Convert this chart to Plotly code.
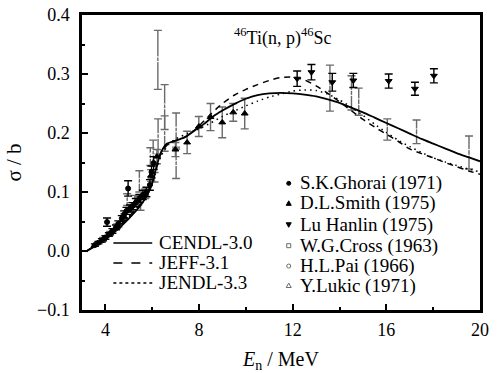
import plotly.graph_objects as go

# ---------------- evaluated data curves ----------------
cendl_x = [3.2, 3.5, 4.0, 4.5, 5.0, 5.5, 5.85, 6.0, 6.15, 6.35, 6.6, 7.0, 7.4, 7.8, 8.2, 8.6, 9.0, 9.5,
           10.0, 10.5, 11.0, 11.5, 12.0, 12.5, 13.0, 13.5, 14.0, 14.5, 15.0, 15.5, 16.0, 16.5, 17.0,
           17.5, 18.0, 18.5, 19.0, 19.5, 20.0]
cendl_y = [0.0, 0.007, 0.02, 0.036, 0.055, 0.077, 0.100, 0.115, 0.138, 0.165, 0.181, 0.187, 0.193, 0.204,
           0.215, 0.228, 0.238, 0.249, 0.258, 0.264, 0.267, 0.268, 0.267, 0.265, 0.262, 0.257, 0.251,
           0.243, 0.235, 0.226, 0.217, 0.208, 0.199, 0.19, 0.182, 0.174, 0.166, 0.159, 0.152]

jeff_x = [3.2, 3.5, 4.0, 4.5, 5.0, 5.5, 5.8, 6.0, 6.2, 6.4, 6.7, 7.0, 7.5, 8.0, 8.5, 9.0, 9.5, 10.0,
          10.5, 11.0, 11.5, 12.0, 12.5, 13.0, 13.5, 14.0, 14.5, 15.0, 15.5, 16.0, 16.5, 17.0, 17.5,
          18.0, 18.5, 19.0, 19.5, 20.0]
jeff_y = [0.0, 0.008, 0.022, 0.039, 0.058, 0.08, 0.1, 0.118, 0.143, 0.168, 0.182, 0.187, 0.195, 0.212,
          0.232, 0.25, 0.264, 0.274, 0.282, 0.289, 0.294, 0.295, 0.29, 0.28, 0.267, 0.253, 0.238,
          0.223, 0.21, 0.198, 0.186, 0.173, 0.165, 0.158, 0.15, 0.143, 0.136, 0.13]

jendl_x = [3.2, 3.5, 4.0, 4.5, 5.0, 5.5, 5.8, 6.0, 6.2, 6.4, 6.7, 7.0, 7.5, 8.0, 8.5, 9.0, 9.5, 10.0,
           10.5, 11.0, 11.5, 12.0, 12.5, 13.0, 13.5, 14.0, 14.5, 15.0, 15.5, 16.0, 16.5, 17.0, 17.5,
           18.0, 18.5, 19.0, 19.5, 20.0]
jendl_y = [0.0, 0.008, 0.021, 0.038, 0.057, 0.079, 0.098, 0.113, 0.14, 0.163, 0.18, 0.19, 0.199, 0.207,
           0.217, 0.228, 0.237, 0.246, 0.254, 0.261, 0.266, 0.271, 0.273, 0.272, 0.266, 0.256, 0.244,
           0.23, 0.215, 0.201, 0.188, 0.177, 0.167, 0.158, 0.151, 0.145, 0.139, 0.134]

# ---------------- experimental data ----------------
ghorai_x = [3.55, 3.7, 3.85, 4.0, 4.07, 4.15, 4.3, 4.45, 4.55, 4.7, 4.8, 4.9, 4.97, 5.05, 5.15, 5.3,
            5.45, 5.6, 5.75, 5.9, 5.97, 6.06]
ghorai_y = [0.01, 0.014, 0.018, 0.023, 0.049, 0.028, 0.034, 0.04, 0.046, 0.055, 0.062, 0.068, 0.106,
            0.072, 0.076, 0.082, 0.089, 0.095, 0.1, 0.112, 0.134, 0.149]
ghorai_e = [0.002, 0.002, 0.003, 0.003, 0.007, 0.003, 0.004, 0.004, 0.005, 0.005, 0.006, 0.006, 0.013,
            0.006, 0.006, 0.007, 0.007, 0.008, 0.008, 0.009, 0.01, 0.011]

smith_x = [3.9, 4.2, 4.5, 4.8, 5.1, 5.4, 5.7, 5.95, 6.2, 6.99, 7.49, 7.99, 8.49, 8.99, 9.46, 9.95]
smith_y = [0.02, 0.03, 0.042, 0.058, 0.072, 0.085, 0.097, 0.128, 0.16, 0.172, 0.184, 0.211, 0.227,
           0.218, 0.235, 0.233]
smith_e = [0.003, 0.003, 0.004, 0.005, 0.006, 0.007, 0.008, 0.01, 0.012, 0.012, 0.019, 0.017, 0.023,
           0.026, 0.015, 0.026]

lu_x = [12.19, 12.8, 13.69, 14.59, 16.1, 17.22, 18.03]
lu_y = [0.292, 0.303, 0.286, 0.289, 0.288, 0.275, 0.297]
lu_e = [0.013, 0.013, 0.015, 0.012, 0.012, 0.011, 0.012]

cross_x = [5.25, 6.1, 14.51]
cross_y = [0.088, 0.125, 0.268]
cross_e = [0.006, 0.008, 0.029]

pai_x = [13.59, 14.82, 16.04, 17.29, 19.53]
pai_y = [0.276, 0.253, 0.206, 0.202, 0.167]
pai_e = [0.039, 0.023, 0.018, 0.02, 0.028]

lukic_x = [4.93, 5.45, 5.5, 5.92, 6.04, 6.24, 6.25, 6.53, 6.53, 7.02, 7.02]
lukic_y = [0.087, 0.118, 0.081, 0.16, 0.166, 0.324, 0.194, 0.244, 0.199, 0.205, 0.148]
lukic_e = [0.01, 0.018, 0.012, 0.015, 0.022, 0.05, 0.03, 0.038, 0.03, 0.029, 0.025]

line_names = ["CENDL-3.0", "JEFF-3.1", "JENDL-3.3"]
exp_names = ["S.K.Ghorai (1971)", "D.L.Smith (1975)", "Lu Hanlin (1975)",
             "W.G.Cross (1963)", "H.L.Pai (1966)", "Y.Lukic (1971)"]
x_ticks = [4, 8, 12, 16, 20]
y_ticks = [-0.1, 0.0, 0.1, 0.2, 0.3, 0.4]

FONT = "Liberation Serif, Times New Roman, Times, serif"
GREY = "#6a6a6a"

fig = go.Figure()

def exp_trace(x, y, e, name, symbol, mcolor, mline, ecolor, size):
    fig.add_trace(go.Scatter(
        x=x, y=y, mode="markers", name=name, showlegend=False,
        marker=dict(symbol=symbol, size=size, color=mcolor, line=dict(color=mline, width=1)),
        error_y=dict(type="data", array=e, visible=True, color=ecolor, thickness=1.4, width=4),
    ))

exp_trace(lukic_x, lukic_y, lukic_e, exp_names[5], "triangle-up-open", "white", GREY, GREY, 7)
exp_trace(pai_x, pai_y, pai_e, exp_names[4], "circle-open", "white", GREY, GREY, 6)
exp_trace(cross_x, cross_y, cross_e, exp_names[3], "square-open", "white", GREY, GREY, 5)
exp_trace(smith_x, smith_y, smith_e, exp_names[1], "triangle-up", "black", "black", GREY, 6)
exp_trace(ghorai_x, ghorai_y, ghorai_e, exp_names[0], "circle", "black", "black", "black", 5)
exp_trace(lu_x, lu_y, lu_e, exp_names[2], "triangle-down", "black", "black", "black", 6)

fig.add_trace(go.Scatter(x=cendl_x, y=cendl_y, mode="lines", name=line_names[0], showlegend=False,
                         line=dict(color="black", width=1.8, shape="spline", smoothing=0.6)))
fig.add_trace(go.Scatter(x=jeff_x, y=jeff_y, mode="lines", name=line_names[1], showlegend=False,
                         line=dict(color="black", width=1.5, dash="6px,5px", shape="spline", smoothing=0.6)))
fig.add_trace(go.Scatter(x=jendl_x, y=jendl_y, mode="lines", name=line_names[2], showlegend=False,
                         line=dict(color="black", width=1.5, dash="1.5px,4px", shape="spline", smoothing=0.6)))

# ---------------- manual legends ----------------
shapes = []
annotations = []
line_rows = [0.0136, -0.0203, -0.0542]
dashes = ["solid", "dash", "dot"]
for name, yy, d in zip(line_names, line_rows, dashes):
    shapes.append(dict(type="line", xref="x", yref="y", x0=4.34, x1=6.0, y0=yy, y1=yy,
                       line=dict(color="black", width=1.5, dash=d)))
    annotations.append(dict(x=6.2, y=yy, xref="x", yref="y", text=name, showarrow=False,
                            xanchor="left", yanchor="middle",
                            font=dict(family=FONT, size=19, color="black")))

# legend keys for experiments (small symbols), sized in pixels -> data units
PX = 1 / 23.4      # one pixel in x data units
PY = 1 / 590.0     # one pixel in y data units
exp_rows = [0.1147, 0.0808, 0.0445, 0.0090, -0.0255, -0.0585]
key_x = 11.83
kinds = ["circle", "up", "down", "square", "circle", "up"]
fills = ["black", "black", "black", "white", "white", "white"]
edges = ["black", "black", "black", GREY, GREY, GREY]
r = 2.0
for name, yy, kind, fc, ec in zip(exp_names, exp_rows, kinds, fills, edges):
    if kind == "circle":
        shapes.append(dict(type="circle", xref="x", yref="y",
                           x0=key_x - r * PX, x1=key_x + r * PX, y0=yy - r * PY, y1=yy + r * PY,
                           fillcolor=fc, line=dict(color=ec, width=1)))
    elif kind == "square":
        shapes.append(dict(type="rect", xref="x", yref="y",
                           x0=key_x - r * PX, x1=key_x + r * PX, y0=yy - r * PY, y1=yy + r * PY,
                           fillcolor=fc, line=dict(color=ec, width=1)))
    else:
        s = 1 if kind == "up" else -1
        path = (f"M {key_x - 2.5 * PX},{yy - s * 2 * PY} L {key_x + 2.5 * PX},{yy - s * 2 * PY} "
                f"L {key_x},{yy + s * 2.5 * PY} Z")
        shapes.append(dict(type="path", xref="x", yref="y", path=path,
                           fillcolor=fc, line=dict(color=ec, width=1)))
    annotations.append(dict(x=12.24, y=yy, xref="x", yref="y", text=name, showarrow=False,
                            xanchor="left", yanchor="middle",
                            font=dict(family=FONT, size=19, color="black")))

annotations.append(dict(x=11.6, y=0.362, xref="x", yref="y",
                        text="<sup>46</sup>Ti(n, p)<sup>46</sup>Sc", showarrow=False,
                        xanchor="center", yanchor="middle",
                        font=dict(family=FONT, size=18, color="black")))

axis_common = dict(
    showgrid=False, zeroline=False, showline=True, linecolor="black", linewidth=2.5,
    mirror=True, ticks="inside", ticklen=6, tickwidth=2, tickcolor="black",
    tickfont=dict(family=FONT, size=18, color="black"),
)

fig.update_layout(
    width=500, height=373,
    margin=dict(l=82, r=20, t=15, b=63),
    paper_bgcolor="white", plot_bgcolor="white",
    showlegend=False,
    shapes=shapes, annotations=annotations,
    xaxis=dict(range=[3, 20], tickvals=x_ticks, ticktext=[str(v) for v in x_ticks],
               minor=dict(dtick=2, tick0=0, ticks="inside", ticklen=3.5, tickwidth=2, tickcolor="black"),
               title=dict(text="<i>E</i><sub>n</sub> / MeV", standoff=15,
                          font=dict(family=FONT, size=20, color="black")),
               ticklabelstandoff=2, automargin=False,
               **axis_common),
    yaxis=dict(range=[-0.1, 0.4], tickvals=y_ticks, tickformat=".1f",
               minor=dict(dtick=0.05, tick0=0, ticks="inside", ticklen=3.5, tickwidth=2, tickcolor="black"),
               title=dict(text="σ / b", standoff=10,
                          font=dict(family=FONT, size=21, color="black")),
               ticklabelstandoff=6, automargin=False,
               **axis_common),
)

fig.write_html("out.html")
